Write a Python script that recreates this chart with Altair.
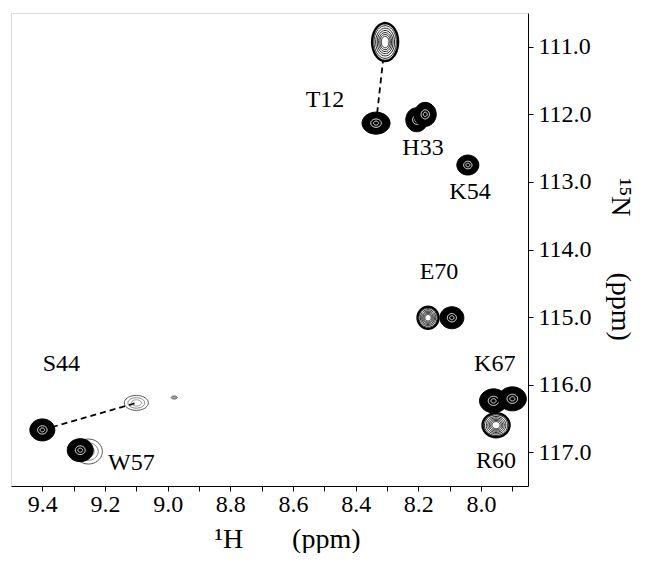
import math
import altair as alt
import pandas as pd

# ---------------- data ----------------
peak_id = ["T12a", "T12b", "H33a", "H33b", "K54", "E70a", "E70b",
           "K67a", "K67b", "R60", "S44a", "S44b", "W57b", "W57a", "noise"]
peak_H = [8.306, 8.335, 8.205, 8.178, 8.042, 8.169, 8.093,
          7.960, 7.900, 7.952, 9.400, 9.100, 9.253, 9.279, 8.979]
peak_N = [110.93, 112.13, 112.08, 112.00, 112.75, 115.01, 115.01,
          116.24, 116.21, 116.60, 116.67, 116.27, 116.99, 116.97, 116.19]

label_text = ["T12", "H33", "K54", "E70", "K67", "R60", "S44", "W57"]
label_H = [8.498, 8.185, 8.035, 8.134, 7.956, 7.952, 9.339, 9.116]
label_N = [111.785, 112.504, 113.148, 114.33, 115.70, 117.13, 115.70, 117.156]

link_group = ["T12", "T12", "S44", "S44"]
link_H = [8.306, 8.335, 9.400, 9.100]
link_N = [110.93, 112.13, 116.67, 116.27]

x_ticks = [9.4, 9.3, 9.2, 9.1, 9.0, 8.9, 8.8, 8.7, 8.6, 8.5, 8.4, 8.3, 8.2, 8.1, 8.0, 7.9]
y_ticks = [111, 112, 113, 114, 115, 116, 117]

# ---------------- drawing style (pixel sizes / contour look) ----------------
peak_style = {
    "T12a": ("open", 26, 38), "T12b": ("filled", 28, 22),
    "H33a": ("filled", 22, 24), "H33b": ("filled", 22, 24),
    "K54": ("filled", 22, 20), "E70a": ("open", 21, 22),
    "E70b": ("filled", 24, 22), "K67a": ("filled", 28, 24),
    "K67b": ("filled", 28, 24), "R60": ("open", 27, 24),
    "S44a": ("filled", 25, 22), "S44b": ("faint", 24, 15),
    "W57b": ("faint", 28, 25), "W57a": ("filled", 26, 23),
    "noise": ("faint", 6, 3),
}


def ellipse_path(w, h, n=36):
    m = max(w, h)
    rx, ry = w / m, h / m
    pts = []
    for k in range(n):
        a = 2 * math.pi * k / n
        pts.append(f"{rx * math.cos(a):.3f},{ry * math.sin(a):.3f}")
    return "M" + "L".join(pts) + "Z"


rows = []
idx = 0
for pid, hx, ny in zip(peak_id, peak_H, peak_N):
    kind, w, h = peak_style[pid]

    def add(scale, fill, fop, stroke, sw):
        global idx
        ww, hh = w * scale, h * scale
        rows.append(dict(H=hx, N=ny, shape=ellipse_path(ww, hh),
                         size=max(ww, hh) ** 2, fill=fill, fo=fop,
                         stroke=stroke, sw=sw, o=idx))
        idx += 1

    if kind == "filled":
        add(1.0, "black", 1.0, "black", 1.0)
        add(0.38, "white", 0.0, "white", 0.9)
        add(0.18, "white", 0.0, "white", 0.9)
    elif kind == "open":
        add(1.0, "white", 1.0, "black", 2.4)
        for s in [0.86, 0.73, 0.61, 0.5, 0.4, 0.3]:
            add(s, "white", 0.0, "#222222", 1.0)
    else:
        add(1.0, "white", 0.0, "#444444", 0.9)
        add(0.7, "white", 0.0, "#666666", 0.8)
        add(0.42, "white", 0.0, "#777777", 0.8)

rings = pd.DataFrame(rows)
labels = pd.DataFrame({"H": label_H, "N": label_N, "t": label_text})
links = pd.DataFrame({"H": link_H, "N": link_N, "g": link_group})

SERIF = "Liberation Serif"
NB = "\u00a0"

x_enc = alt.X(
    "H:Q",
    scale=alt.Scale(domain=[7.85, 9.5], reverse=True, nice=False, zero=False),
    axis=alt.Axis(
        values=x_ticks,
        labelExpr="abs(round(datum.value*10)) % 2 == 0 ? format(datum.value, '.1f') : ''",
        tickSize=5, tickColor="black", domainColor="black", grid=False,
        labelFont=SERIF, labelFontSize=24, labelColor="black", labelPadding=1,
        labelFlush=False,
        title="\u00b9H" + NB * 7 + "(ppm)", titleFont=SERIF, titleFontSize=28,
        titleFontWeight="normal", titleColor="black", titlePadding=9, titleX=276,
    ),
)
y_enc = alt.Y(
    "N:Q",
    scale=alt.Scale(domain=[110.5, 117.5], reverse=True, nice=False, zero=False),
    axis=alt.Axis(
        orient="right", values=y_ticks, format=".1f",
        tickSize=5, tickColor="black", domainColor="black", grid=False,
        labelFont=SERIF, labelFontSize=24, labelColor="black", labelPadding=5,
        title="\u00b9\u2075N" + NB * 8 + "(ppm)", titleFont=SERIF, titleFontSize=28,
        titleFontWeight="normal", titleColor="black", titlePadding=14, titleY=246,
    ),
)

link_layer = alt.Chart(links).mark_line(
    color="black", strokeWidth=1.8, strokeDash=[6, 4]
).encode(x=x_enc, y=y_enc, detail="g:N")

peak_layer = alt.Chart(rings).mark_point(opacity=1).encode(
    x=x_enc, y=y_enc,
    shape=alt.Shape("shape:N", scale=None),
    size=alt.Size("size:Q", scale=None),
    fill=alt.Fill("fill:N", scale=None),
    fillOpacity=alt.FillOpacity("fo:Q", scale=None),
    stroke=alt.Stroke("stroke:N", scale=None),
    strokeWidth=alt.StrokeWidth("sw:Q", scale=None),
    order=alt.Order("o:Q"),
)

label_layer = alt.Chart(labels).mark_text(
    font=SERIF, fontSize=24, color="black", align="center", baseline="middle"
).encode(x=x_enc, y=y_enc, text="t:N")

chart = alt.layer(link_layer, peak_layer, label_layer).properties(
    width=517, height=473,
    padding={"left": 3, "top": 5, "right": 5, "bottom": 0},
).configure_view(stroke="black", strokeWidth=1.2).configure(background="white")

chart.save("out.html", embed_options={"renderer": "svg", "actions": False})
